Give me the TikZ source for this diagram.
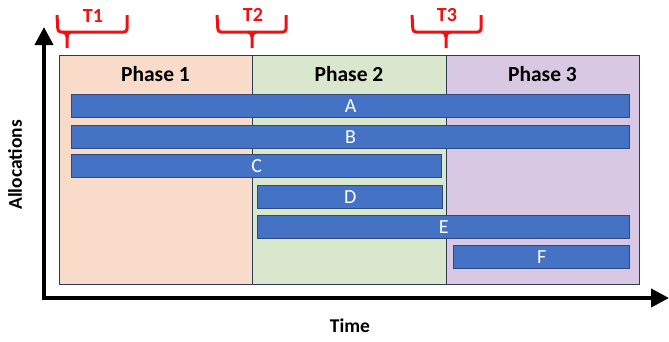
\documentclass[tikz,border=0pt]{standalone}
\usepackage{fontspec}
\setmainfont{Carlito}
\usetikzlibrary{arrows.meta}
\definecolor{p1}{HTML}{F8DBC8}
\definecolor{p2}{HTML}{D9E7CD}
\definecolor{p3}{HTML}{D9C8E4}
\definecolor{pborder}{HTML}{2E3B55}
\definecolor{barfill}{HTML}{4472C4}
\definecolor{barline}{HTML}{2F4A7A}
\definecolor{bred}{HTML}{F01010}
\tikzset{
  phase/.style={draw=pborder, line width=1.2pt, anchor=north west, inner sep=0pt, minimum height=229pt},
  ptitle/.style={font=\fontsize{21.5}{23}\selectfont\bfseries, text=black},
  bar/.style={draw=barline, fill=barfill, line width=1.3pt, anchor=north west, inner sep=0pt, text=white, font=\fontsize{20}{22}\selectfont},
  axis/.style={line width=4pt, -{Triangle[length=18pt,width=18pt]}},
  brace/.style={draw=bred, line width=3pt, rounded corners=3pt},
  tip/.style={draw=bred, line width=3pt},
  blabel/.style={text=bred, font=\fontsize{20}{22}\selectfont\bfseries},
  alabel/.style={font=\fontsize{19.5}{21}\selectfont\bfseries}
}
\begin{document}
\begin{tikzpicture}[x=1pt,y=-1pt]
\useasboundingbox (0,0) rectangle (669,341);
% phases
\node[phase, fill=p1, minimum width=193pt] (ph1) at (59,55) {};
\node[phase, fill=p2, minimum width=194pt] (ph2) at (252,55) {};
\node[phase, fill=p3, minimum width=193pt] (ph3) at (446,55) {};
\node[ptitle] (t1) at (155.5,74) {Phase 1};
\node[ptitle] (t2) at (349,74) {Phase 2};
\node[ptitle] (t3) at (542.5,74) {Phase 3};
% bars
\node[bar, minimum width=558pt, minimum height=23pt] (A) at (71,94) {A};
\node[bar, minimum width=558pt, minimum height=23pt] (B) at (71,125) {B};
\node[bar, minimum width=370pt, minimum height=23pt] (C) at (71,154) {C};
\node[bar, minimum width=185pt, minimum height=23pt] (D) at (257,185) {D};
\node[bar, minimum width=372pt, minimum height=23pt] (E) at (257,215) {E};
\node[bar, minimum width=176pt, minimum height=23pt] (F) at (453,245) {F};
% axes
\coordinate (ytip) at (44,27);
\coordinate (xtip) at (669,298);
\coordinate (xstart) at (42,298);
\coordinate (ystart) at (44,300);
\draw[axis] (ystart) -- (ytip);
\draw[axis] (xstart) -- (xtip);
\node[alabel] (time) at (350,326) {Time};
\node[alabel, rotate=90] (alloc) at (15,165) {Allocations};
% braces
\draw[brace] (57,15) -- (58,32) -- (127,32) -- (127,15);
\draw[tip] (63,32) to[out=0,in=90] (67,37) -- (67,48);
\draw[tip] (71,32) to[out=180,in=90] (67,37);
\node[blabel] (T1) at (93,16) {T1};
\draw[brace] (217,15) -- (218,32) -- (286,32) -- (286,15);
\draw[tip] (248,32) to[out=0,in=90] (252,37) -- (252,48);
\draw[tip] (256,32) to[out=180,in=90] (252,37);
\node[blabel] (T2) at (253,15) {T2};
\draw[brace] (412,15) -- (413,32) -- (481,32) -- (481,15);
\draw[tip] (442,32) to[out=0,in=90] (446,37) -- (446,48);
\draw[tip] (450,32) to[out=180,in=90] (446,37);
\node[blabel] (T3) at (447,15) {T3};
\end{tikzpicture}
\end{document}
